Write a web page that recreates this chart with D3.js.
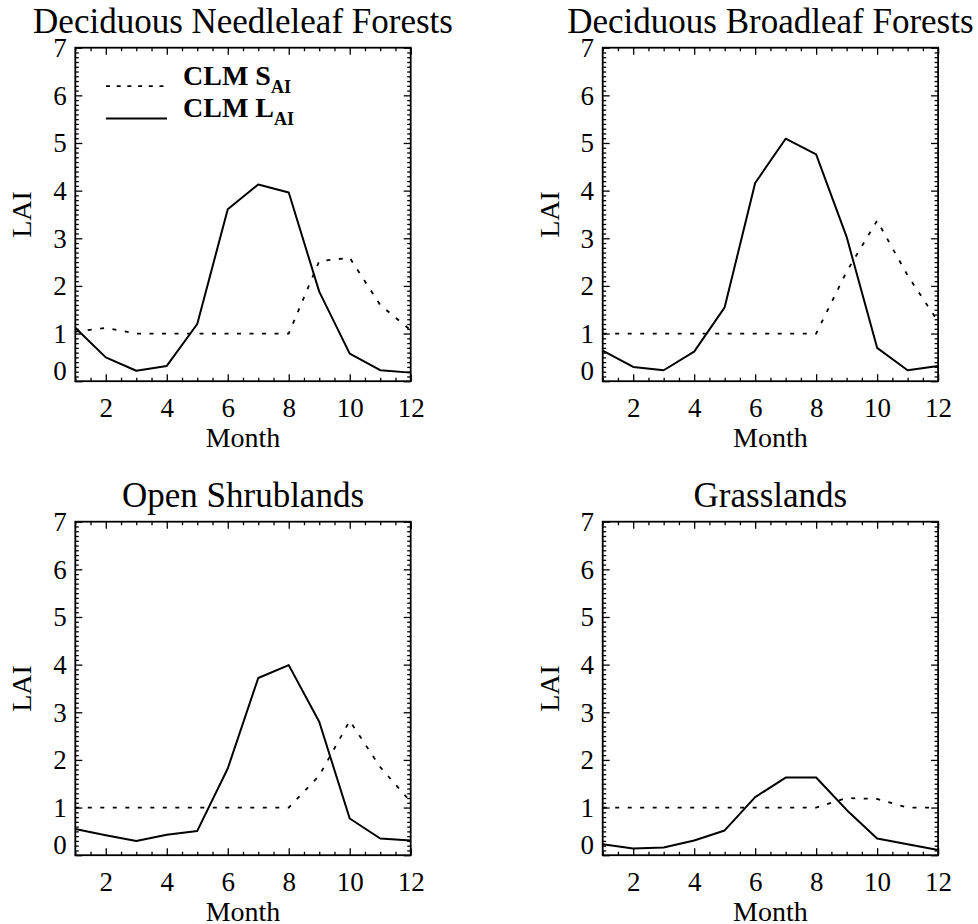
<!DOCTYPE html>
<html>
<head>
<meta charset="utf-8">
<script src="https://cdn.jsdelivr.net/npm/d3@7"></script>
<style>
  html, body { margin: 0; padding: 0; background: #fff; }
  svg text { font-family: "Liberation Serif", "Times New Roman", serif; fill: #000; }
</style>
</head>
<body>
<div id="chart"></div>
<script>
// LAI / SAI monthly climatology, four land cover types
const months = [1, 2, 3, 4, 5, 6, 7, 8, 9, 10, 11, 12];
const titles = ["Deciduous Needleleaf Forests", "Deciduous Broadleaf Forests", "Open Shrublands", "Grasslands"];

const laiNeedle = [1.12, 0.50, 0.22, 0.32, 1.20, 3.61, 4.13, 3.96, 1.88, 0.58, 0.23, 0.18];
const saiNeedle = [1.04, 1.12, 1.00, 1.00, 1.00, 1.00, 1.00, 1.00, 2.52, 2.59, 1.60, 1.07];
const laiBroad  = [0.64, 0.30, 0.23, 0.62, 1.55, 4.16, 5.09, 4.76, 3.03, 0.70, 0.23, 0.32];
const saiBroad  = [1.00, 1.00, 1.00, 1.00, 1.00, 1.00, 1.00, 1.00, 2.30, 3.37, 2.22, 1.25];
const laiShrub  = [0.55, 0.42, 0.30, 0.43, 0.51, 1.82, 3.72, 3.99, 2.80, 0.77, 0.35, 0.31];
const saiShrub  = [1.00, 1.00, 1.00, 1.00, 1.00, 1.00, 1.00, 1.00, 1.67, 2.82, 1.85, 1.12];
const laiGrass  = [0.23, 0.14, 0.16, 0.31, 0.52, 1.22, 1.63, 1.63, 0.95, 0.35, 0.23, 0.11];
const saiGrass  = [1.00, 1.00, 1.00, 1.00, 1.00, 1.00, 1.00, 1.00, 1.20, 1.18, 1.00, 1.00];

const xTicks = [2, 4, 6, 8, 10, 12];
const yTicks = [0, 1, 2, 3, 4, 5, 6, 7];

const width = 978, height = 924;
const panelW = 335.4, panelH = 333.5;
const panels = [
  {left: 75.3,  top: 47.7,  lai: laiNeedle, sai: saiNeedle, legend: true},
  {left: 602.7, top: 47.7,  lai: laiBroad,  sai: saiBroad},
  {left: 75.3,  top: 521.7, lai: laiShrub,  sai: saiShrub},
  {left: 602.7, top: 521.7, lai: laiGrass,  sai: saiGrass}
];
const tickFont = 27, titleFont = 35, labelFont = 28;

const svg = d3.select("#chart").append("svg")
  .attr("width", width).attr("height", height);

panels.forEach((p, i) => {
  const g = svg.append("g").attr("transform", `translate(${p.left},${p.top})`);
  const x = d3.scaleLinear().domain([1, 12]).range([0, panelW]);
  const y = d3.scaleLinear().domain([0, 7]).range([panelH, 0]);
  const minorX = d3.range(1, 12.01, 0.5).filter(v => v % 2 !== 0);
  const minorY = d3.range(0, 7.001, 0.1).map(v => +v.toFixed(1)).filter(v => v % 1 !== 0);

  const clipId = "clip" + i;
  g.append("clipPath").attr("id", clipId).append("rect")
    .attr("width", panelW).attr("height", panelH);

  // ticks on all four sides, pointing inward
  const tickLayer = (axisFn, scale, vals, size, tr) => {
    const a = g.append("g").attr("transform", tr)
      .call(axisFn(scale).tickValues(vals).tickSize(size).tickFormat(""));
    a.select(".domain").remove();
    a.selectAll("line").attr("stroke", "#000").attr("stroke-width", 1.3);
    return a;
  };
  tickLayer(d3.axisBottom, x, xTicks, -7, `translate(0,${panelH})`);
  tickLayer(d3.axisBottom, x, minorX, -3.5, `translate(0,${panelH})`);
  tickLayer(d3.axisTop, x, xTicks, -7, "translate(0,0)");
  tickLayer(d3.axisTop, x, minorX, -3.5, "translate(0,0)");
  tickLayer(d3.axisLeft, y, yTicks, -7, "translate(0,0)");
  tickLayer(d3.axisLeft, y, minorY, -3.5, "translate(0,0)");
  tickLayer(d3.axisRight, y, yTicks, -7, `translate(${panelW},0)`);
  tickLayer(d3.axisRight, y, minorY, -3.5, `translate(${panelW},0)`);

  // tick labels
  const xa = g.append("g").attr("transform", `translate(0,${panelH})`)
    .call(d3.axisBottom(x).tickValues(xTicks).tickSize(0).tickPadding(16.5).tickFormat(d3.format("d")));
  xa.select(".domain").remove();
  xa.selectAll("text").attr("font-size", tickFont).attr("font-family", null);

  const ya = g.append("g")
    .call(d3.axisLeft(y).tickValues(yTicks).tickSize(0).tickPadding(8.6).tickFormat(d3.format("d")));
  ya.select(".domain").remove();
  ya.selectAll("text").attr("font-size", tickFont).attr("font-family", null)
    .attr("dy", d => d === 0 ? "-0.06em" : "0.33em");

  // frame
  g.append("rect").attr("width", panelW).attr("height", panelH)
    .attr("fill", "none").attr("stroke", "#000").attr("stroke-width", 1.8);

  // lines
  const line = vals => d3.line().x((d, k) => x(months[k])).y(d => y(d))(vals);
  g.append("path").attr("clip-path", `url(#${clipId})`)
    .attr("d", line(p.sai)).attr("fill", "none").attr("stroke", "#000")
    .attr("stroke-width", 1.8).attr("stroke-dasharray", "4,8.5");
  g.append("path").attr("clip-path", `url(#${clipId})`)
    .attr("d", line(p.lai)).attr("fill", "none").attr("stroke", "#000")
    .attr("stroke-width", 2).attr("stroke-linejoin", "round");

  // titles
  g.append("text").attr("x", panelW / 2).attr("y", -14.6)
    .attr("text-anchor", "middle").attr("font-size", titleFont).text(titles[i]);
  g.append("text").attr("x", panelW / 2).attr("y", panelH + 65.5)
    .attr("text-anchor", "middle").attr("font-size", labelFont).text("Month");
  g.append("text").attr("transform", `translate(-44,${panelH / 2}) rotate(-90)`)
    .attr("text-anchor", "middle").attr("font-size", labelFont).text("LAI");

  if (p.legend) {
    const lg = g.append("g");
    const rows = [{dash: "4,6.7", lab: "S", ly: 38.5}, {dash: null, lab: "L", ly: 70.8}];
    rows.forEach(r => {
      lg.append("line").attr("x1", 30.7).attr("x2", 91.7).attr("y1", r.ly).attr("y2", r.ly)
        .attr("stroke", "#000").attr("stroke-width", 1.8).attr("stroke-dasharray", r.dash);
      const t = lg.append("text").attr("x", 107.7).attr("y", r.ly - 1)
        .attr("font-size", 28).attr("font-weight", "bold");
      t.append("tspan").text("CLM " + r.lab);
      t.append("tspan").attr("font-size", 18).attr("dy", 7.5).text("AI");
    });
  }
});
</script>
</body>
</html>
